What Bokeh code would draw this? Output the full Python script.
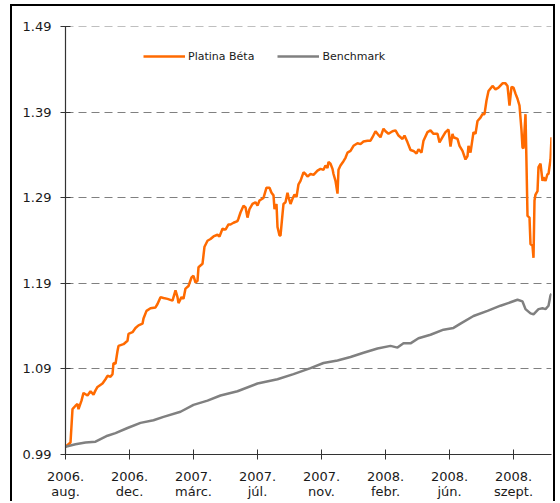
from bokeh.plotting import figure
from bokeh.models import Range1d, FixedTicker, Legend, LegendItem, PrintfTickFormatter
from bokeh.embed import file_html
from bokeh.resources import INLINE

# trading-day index (tick every 64 index units) and fund values
day = [0, 5, 7, 10, 12, 13, 16, 18, 22, 25, 28, 30, 32, 37, 40, 42, 45, 47, 48, 50,
       52, 53, 58, 62, 63, 67, 70, 73, 77, 78, 81, 85, 90, 92, 95, 98, 102, 107, 110, 112,
       113, 116, 118, 120, 123, 126, 128, 130, 132, 133, 137, 139, 142, 145, 148, 152, 154, 157, 160, 163,
       165, 168, 172, 173, 175, 178, 180, 182, 184, 187, 190, 192, 194, 198, 201, 204, 206, 208, 209, 211,
       212, 214, 215, 217, 218, 220, 222, 223, 225, 227, 229, 231, 233, 235, 238, 240, 242, 245, 248, 252,
       255, 258, 260, 262, 263, 265, 267, 268, 270, 272, 273, 275, 278, 280, 282, 285, 288, 292, 295, 298,
       302, 305, 307, 310, 312, 315, 318, 320, 323, 327, 330, 333, 337, 339, 342, 345, 348, 351, 353, 356,
       358, 362, 365, 368, 372, 374, 377, 380, 383, 385, 387, 388, 392, 394, 397, 400, 402, 403, 405, 408,
       410, 412, 415, 417, 419, 421, 423, 427, 430, 433, 437, 440, 442, 444, 446, 448, 450, 452, 454, 456,
       457, 458, 460, 461, 462, 464, 465, 467, 468, 469, 470, 472, 473, 475, 477, 478, 480, 482, 483, 485,
       486]
platina = [0.999, 1.004, 1.043, 1.047, 1.049, 1.043, 1.053, 1.062, 1.059, 1.064, 1.060, 1.065, 1.069, 1.073, 1.078, 1.082, 1.081, 1.084, 1.097, 1.096,
           1.111, 1.117, 1.119, 1.123, 1.131, 1.133, 1.138, 1.141, 1.143, 1.149, 1.158, 1.161, 1.162, 1.166, 1.174, 1.173, 1.172, 1.170, 1.182, 1.174,
           1.167, 1.174, 1.172, 1.184, 1.187, 1.197, 1.199, 1.191, 1.193, 1.209, 1.213, 1.233, 1.240, 1.242, 1.245, 1.247, 1.245, 1.254, 1.253, 1.259,
           1.259, 1.261, 1.263, 1.266, 1.273, 1.281, 1.279, 1.267, 1.277, 1.283, 1.285, 1.281, 1.287, 1.290, 1.302, 1.302, 1.296, 1.293, 1.277, 1.283,
           1.256, 1.246, 1.246, 1.271, 1.283, 1.285, 1.296, 1.291, 1.283, 1.289, 1.294, 1.291, 1.306, 1.310, 1.320, 1.318, 1.315, 1.318, 1.317, 1.322,
           1.324, 1.323, 1.328, 1.325, 1.332, 1.330, 1.324, 1.318, 1.310, 1.295, 1.323, 1.328, 1.333, 1.337, 1.343, 1.345, 1.351, 1.354, 1.353, 1.356,
           1.357, 1.357, 1.361, 1.368, 1.365, 1.361, 1.371, 1.368, 1.365, 1.368, 1.369, 1.363, 1.359, 1.363, 1.355, 1.346, 1.345, 1.342, 1.347, 1.343,
           1.357, 1.367, 1.369, 1.365, 1.365, 1.355, 1.361, 1.367, 1.370, 1.350, 1.365, 1.361, 1.359, 1.351, 1.345, 1.335, 1.339, 1.351, 1.343, 1.367,
           1.365, 1.380, 1.384, 1.388, 1.388, 1.404, 1.415, 1.421, 1.417, 1.419, 1.424, 1.424, 1.421, 1.398, 1.420, 1.419, 1.412, 1.406, 1.398, 1.369,
           1.349, 1.348, 1.388, 1.330, 1.269, 1.267, 1.236, 1.234, 1.220, 1.287, 1.294, 1.298, 1.326, 1.330, 1.310, 1.314, 1.310, 1.318, 1.318, 1.335,
           1.361]

bench_day = [0, 10, 20, 30, 35, 42, 50, 62, 75, 88, 98, 115, 128, 142, 155, 172, 192, 212, 228, 245,
             258, 272, 285, 298, 312, 325, 332, 338, 345, 353, 365, 378, 388, 395, 408, 422, 435, 445, 452, 457,
             460, 465, 468, 473, 477, 480, 483, 485, 486]
benchmark = [0.999, 1.002, 1.004, 1.005, 1.008, 1.012, 1.015, 1.021, 1.027, 1.030, 1.034, 1.040, 1.048, 1.053, 1.059, 1.064, 1.073, 1.078, 1.084, 1.091,
             1.097, 1.100, 1.104, 1.109, 1.114, 1.117, 1.115, 1.120, 1.120, 1.126, 1.130, 1.136, 1.138, 1.143, 1.152, 1.158, 1.164, 1.168, 1.171, 1.169,
             1.160, 1.155, 1.154, 1.160, 1.161, 1.160, 1.164, 1.176, 1.178]

tick_pos = [0, 64, 128, 192, 256, 320, 384, 448]
tick_labels = ["2006.\naug.", "2006.\ndec.", "2007.\nmárc.", "2007.\njúl.",
               "2007.\nnov.", "2008.\nfebr.", "2008.\njún.", "2008.\nszept."]
y_ticks = [0.99, 1.09, 1.19, 1.29, 1.39, 1.49]

FONT = "DejaVu Sans"

p = figure(width=545, height=497, output_backend="svg", toolbar_location=None,
           x_range=Range1d(0, 486), y_range=Range1d(0.99, 1.4905),
           min_border_left=53, min_border_right=6, min_border_top=20, min_border_bottom=49)
p.outline_line_color = None
p.background_fill_color = "white"
p.border_fill_color = "white"
p.styles = {"border-left": "2px solid black", "border-top": "2px solid black",
            "border-right": "2px solid black", "margin-left": "10px", "margin-top": "4px"}

p.xgrid.visible = False
p.ygrid.ticker = FixedTicker(ticks=y_ticks[1:])
p.ygrid.grid_line_color = "#808080"
p.ygrid.grid_line_dash = "8 5"
p.ygrid.grid_line_width = 1.2

p.yaxis.ticker = FixedTicker(ticks=y_ticks)
p.yaxis.formatter = PrintfTickFormatter(format="%.2f")
p.xaxis.ticker = FixedTicker(ticks=tick_pos)
p.xaxis.major_label_overrides = dict(zip(tick_pos, tick_labels))
for ax in (p.xaxis[0], p.yaxis[0]):
    ax.minor_tick_line_color = None
    ax.major_tick_in = 5
    ax.major_tick_out = 5
    ax.axis_line_color = "#333333"
    ax.major_tick_line_color = "#333333"
    ax.axis_line_width = 1.2
    ax.major_label_text_font = FONT
    ax.major_label_text_font_size = "13px"
    ax.major_label_text_color = "#1a1a1a"
    ax.major_label_text_line_height = 1.0
p.yaxis.major_label_standoff = 9
p.xaxis.major_label_standoff = 9

r1 = p.line(day, platina, line_color="#FF6A00", line_width=2.5)
r2 = p.line(bench_day, benchmark, line_color="#808080", line_width=2.5)

legend = Legend(items=[LegendItem(label="Platina Béta", renderers=[r1]),
                       LegendItem(label="Benchmark", renderers=[r2])],
                orientation="horizontal", location=(78, 391),
                border_line_color=None, background_fill_alpha=0,
                glyph_width=42, glyph_height=14, label_standoff=3, spacing=23,
                padding=0, margin=0,
                label_text_font=FONT, label_text_font_size="11px",
                label_text_color="#1a1a1a")
p.add_layout(legend)

open("out.html", "w").write(file_html(p, INLINE))
